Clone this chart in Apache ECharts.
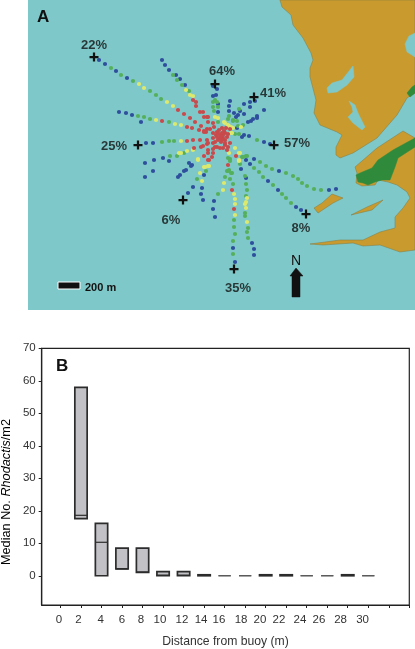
<!DOCTYPE html>
<html><head><meta charset="utf-8">
<style>html,body{margin:0;padding:0;background:#fff}#c{width:415px;height:649px}</style>
<script src="https://cdn.jsdelivr.net/npm/echarts@6/dist/echarts.min.js"></script>
</head><body><div id="c"></div>
<script>
// ---- Panel B data
const distances = [2,4,6,8,10,12,14,16,18,20,22,24,26,28,30];
const lowValues = [17.6,0,2.1,1,0,0,0,0,0,0,0,0,0,0,0];
const medianValues = [18.6,10.3,2.1,1.2,0.2,0.2,0.1,0,0,0.1,0.1,0,0,0.1,0];
const highValues = [58,16.1,8.5,8.5,1.3,1.3,0.3,0,0,0.3,0.3,0,0,0.3,0];
const yTicks = [0,10,20,30,40,50,60,70];
const xTicks = [0,2,4,6,8,10,12,14,16,18,20,22,24,26,28,30,32,34];
const xLabels = ['0','2','4','6','8','10','12','14','16','18','20','22','24','26','28','30'];
const xLabelAt = [-0.15,1.75,3.92,6,7.85,9.7,11.84,13.7,15.45,17.6,19.44,21.3,23.34,25.2,27.3,29.45];

// ---- Panel A data (map coordinates)
const blueDots = [[99,60],[105,64],[116,71],[127,78],[119,112],[126,113],[132,115],[141,122],[146,143],[153,143],[162,60],[165,65],[169,70],[176,75],[180,79],[185,85],[145,163],[154,160],[163,158],[169,161],[145,177],[153,171],[178,177],[180,175],[184,171],[186,170],[189,163],[192,165],[191,166],[188,193],[193,187],[202,188],[201,194],[203,200],[204,175],[213,86],[217,89],[216,95],[213,96],[218,104],[218,112],[255,101],[250,102],[244,104],[250,107],[264,110],[240,111],[230,101],[229,106],[229,111],[234,113],[244,114],[238,115],[236,117],[257,116],[257,118],[253,119],[251,121],[248,122],[237,128],[270,144],[264,142],[249,136],[244,135],[242,137],[254,159],[301,210],[296,207],[278,190],[268,181],[250,164],[246,160],[241,169],[336,189],[329,190],[279,171],[235,262],[233,248],[215,217],[213,209],[214,201],[254,255],[254,249],[252,243],[246,178]];
const greenDots = [[111,68],[121,75],[133,81],[150,91],[156,95],[161,99],[138,116],[144,117],[150,119],[169,122],[162,142],[169,141],[174,141],[173,75],[177,80],[182,85],[189,91],[170,156],[177,156],[184,153],[197,179],[206,171],[215,100],[213,102],[213,107],[218,107],[214,111],[239,109],[229,116],[228,119],[233,120],[237,121],[243,125],[233,121],[238,126],[218,122],[217,102],[257,140],[239,134],[235,134],[242,157],[246,156],[228,158],[230,161],[229,170],[227,171],[232,173],[247,156],[291,203],[286,198],[282,194],[273,185],[263,177],[259,172],[254,168],[243,157],[321,190],[314,189],[307,186],[302,183],[298,179],[293,176],[286,173],[272,169],[266,166],[260,162],[233,254],[233,241],[235,234],[234,227],[234,220],[233,184],[230,179],[231,173],[228,171],[230,159],[218,194],[225,177],[248,238],[247,232],[248,228],[245,216],[245,213],[246,196],[247,190],[246,184],[245,176],[240,164]];
const yellowDots = [[139,84],[144,88],[167,102],[173,106],[156,120],[175,124],[181,125],[181,141],[186,90],[190,95],[193,96],[179,153],[187,151],[193,150],[198,159],[200,173],[202,181],[204,167],[198,160],[215,117],[218,118],[224,122],[225,123],[229,126],[233,128],[232,133],[231,127],[228,125],[241,127],[231,133],[235,148],[229,153],[239,153],[240,153],[239,161],[181,153],[205,167],[208,166],[235,215],[235,204],[235,199],[234,194],[223,190],[224,183],[247,222],[246,208],[245,204],[246,202],[247,198],[239,160],[209,166]];
const redDots = [[178,110],[184,114],[190,118],[195,122],[201,126],[204,131],[162,121],[187,127],[192,128],[199,130],[207,129],[187,141],[193,140],[200,140],[207,140],[193,100],[196,106],[200,112],[204,117],[208,122],[196,102],[203,112],[207,117],[194,148],[201,147],[203,146],[207,144],[204,156],[206,132],[208,117],[213,123],[214,127],[217,132],[210,129],[204,132],[213,138],[213,143],[213,133],[208,143],[208,150],[213,149],[217,147],[208,153],[213,153],[220,148],[223,148],[225,145],[228,147],[230,143],[227,150],[212,157],[208,160],[228,165],[215,142],[218,133],[220,135],[222,137],[223,138],[225,140],[225,133],[223,135],[220,138],[218,140],[222,133],[222,140],[217,137],[227,137],[222,128],[226,128],[230,129],[219,130],[216,135],[224,131],[228,134],[221,142],[225,143],[215,147],[234,209],[232,190],[236,156],[209,160]];

const crossMarks = [[94,57],[215,84],[254,97],[274,145],[306,214],[234,269],[183,200],[138,145]];
const crossLabels = ['22%','64%','41%','57%','8%','35%','6%','25%'];
const crossLabelAt = [[94,45],[222,71],[273,93],[297,143],[301,228],[238,288],[171,220],[114,146]];

const northLand = [[280,0],[282,7],[291,15],[293,25],[303,38],[311,53],[313,60],[310,68],[310,77],[316,100],[314,113],[320,125],[337,132],[342,135],[336,147],[336,155],[340,158],[353,153],[377,138],[397,115],[407,98],[415,93],[415,0]];
const southLand = [[355,167],[377,148],[403,131],[415,138],[415,250],[400,252],[380,245],[363,246],[353,243],[323,245],[310,244],[340,240],[363,240],[380,232],[395,228],[395,217],[403,208],[410,198],[407,192],[397,185],[388,182],[378,180],[375,185],[362,186],[356,183],[357,173]];
const smallIsland = [[314,208],[322,203],[332,194],[343,198],[333,203],[318,213]];
const sliverIsland = [[351,215],[367,207],[383,200],[372,210]];
const inletOne = [[327,88],[332,83],[342,80],[353,66],[354,77],[347,85],[337,92],[328,93]];
const inletTwo = [[349,101],[355,105],[358,113],[365,127],[362,130],[353,123],[348,117],[353,112],[352,107]];
const bayRight = [[415,33],[409,36],[405,44],[407,52],[415,57]];
const greenStrip = [[356,175],[360,173],[372,168],[378,160],[393,150],[415,138],[415,147],[398,158],[395,167],[390,180],[382,180],[375,182],[368,185],[363,183],[358,182]];
const greenBlob = [[407,93],[412,87],[415,85],[415,93],[410,97]];
const northArrow = [[296,268],[303,276],[300,276],[300,297],[292,297],[292,276],[290,276]];
const scaleBar = [[58,282],[80,282],[80,289],[58,289]];

const LAND='#c99a2e', WATER='#7fc8c9', MARSH='#2f8a3c';
const shapes = [
  [northLand,LAND],[southLand,LAND],[smallIsland,LAND],[sliverIsland,LAND],
  [inletOne,WATER],[inletTwo,WATER],[bayRight,WATER],
  [greenStrip,MARSH],[greenBlob,MARSH],[northArrow,'#111']
];
const TXT='#333', FONT='"Liberation Sans",Arial,sans-serif';

const dotSeries = (data,color)=>({type:'scatter',xAxisIndex:0,yAxisIndex:0,data,symbolSize:4.2,silent:true,z:4,
  itemStyle:{color,opacity:1}});

const chart = echarts.init(document.getElementById('c'),null,{renderer:'canvas'});
chart.setOption({
  animation:false,
  backgroundColor:'#fff',
  grid:[
    {left:28,top:0,width:387,height:310,show:true,backgroundColor:WATER,borderWidth:0},
    {left:41.7,top:348.3,width:367.6,height:257,show:true,backgroundColor:'#fff',borderColor:'#222',borderWidth:1.2}
  ],
  xAxis:[
    {gridIndex:0,type:'value',min:28,max:415,show:false},
    {gridIndex:1,type:'value',min:-1.83,max:34,
     name:'Distance from buoy (m)',nameLocation:'middle',nameGap:31,
     nameTextStyle:{color:TXT,fontFamily:FONT,fontSize:12.2},
     splitLine:{show:false},
     axisLine:{onZero:false,lineStyle:{color:'#222',width:1.2}},
     axisTick:{length:3,lineStyle:{color:'#222',width:1},customValues:xTicks},
     axisLabel:{color:TXT,fontFamily:FONT,fontSize:11.5,margin:9,customValues:xLabelAt,
       hideOverlap:false,formatter:v=>xLabels[xLabelAt.indexOf(v)]}}
  ],
  yAxis:[
    {gridIndex:0,type:'value',min:0,max:310,inverse:true,show:false},
    {gridIndex:1,type:'value',min:-9,max:70,
     splitLine:{show:false},
     axisLine:{onZero:false,lineStyle:{color:'#222',width:1.2}},
     axisTick:{length:3,lineStyle:{color:'#222',width:1},customValues:yTicks},
     axisLabel:{color:TXT,fontFamily:FONT,fontSize:11.5,margin:6,customValues:yTicks,hideOverlap:false}}
  ],
  graphic:[
    {type:'text',x:37,y:9,z:20,style:{text:'A',font:'bold 17px '+FONT,fill:'#111'}},
    {type:'text',x:56,y:358,z:20,style:{text:'B',font:'bold 17px '+FONT,fill:'#111'}},
    {type:'text',x:85,y:282,z:20,style:{text:'200 m',font:'bold 11px '+FONT,fill:'#111'}},
    {type:'text',x:291,y:254,z:20,style:{text:'N',font:'14px '+FONT,fill:'#111'}},
    {type:'text',x:0,y:565,rotation:Math.PI/2,z:20,style:{
      text:'{a|Median No. }{b|Rhodactis}{a|/m2}',
      rich:{a:{fontFamily:FONT,fontSize:12.7,color:TXT},
            b:{fontStyle:'italic',fontFamily:FONT,fontSize:12.7,color:TXT}}}}
  ],
  series:[
    {type:'custom',xAxisIndex:0,yAxisIndex:0,silent:true,z:2,clip:true,
     data:shapes.map((s,i)=>[i]),encode:{x:[],y:[]},
     renderItem:(p,api)=>{const s=shapes[api.value(0)];
       return {type:'polygon',shape:{points:s[0].map(q=>api.coord(q))},style:{fill:s[1],stroke:s[1]===LAND?'#7f7a45':s[1],lineWidth:0.5}};}},
    dotSeries(blueDots,'#2d4f9c'),
    dotSeries(greenDots,'#55b05c'),
    dotSeries(yellowDots,'#dde96c'),
    dotSeries(redDots,'#c94a4c'),
    {type:'scatter',xAxisIndex:0,yAxisIndex:0,data:crossMarks,silent:true,z:5,symbolSize:9,
     symbol:'path://M3,0H5V3H8V5H5V8H3V5H0V3H3Z',itemStyle:{color:'#111',opacity:1}},
    {type:'scatter',xAxisIndex:0,yAxisIndex:0,silent:true,z:6,symbolSize:0,
     data:crossLabelAt.map((q,i)=>({value:q,label:{show:true,formatter:crossLabels[i]}})),
     label:{position:'inside',color:'#111',textBorderWidth:0,fontFamily:FONT,fontWeight:'bold',fontSize:13}},
    {type:'custom',xAxisIndex:0,yAxisIndex:0,silent:true,z:6,data:[[0]],encode:{x:[],y:[]},
     renderItem:(p,api)=>({type:'polygon',shape:{points:scaleBar.map(q=>api.coord(q))},
       style:{fill:'#111',stroke:'#fff',lineWidth:1}})},
    {type:'custom',xAxisIndex:1,yAxisIndex:1,silent:true,z:4,
     data:distances.map((d,i)=>[d,lowValues[i],medianValues[i],highValues[i]]),
     encode:{x:0,y:[1,2,3]},
     renderItem:(p,api)=>{
       const x=api.value(0),w=api.size([1.2,0])[0];
       const lo=api.coord([x,api.value(1)]),me=api.coord([x,api.value(2)]),hi=api.coord([x,api.value(3)]);
       const flat=api.value(3)<=0;
       const col=api.value(3)>=0.3?'#2c2c2c':'#555';
       return {type:'group',children:[
         {type:'rect',shape:{x:lo[0]-w/2,y:hi[1],width:w,height:lo[1]-hi[1]},
          style:{fill:'#c2c2c6',stroke:col,lineWidth:flat?1.1:1.7}},
         {type:'line',shape:{x1:lo[0]-w/2,y1:me[1],x2:lo[0]+w/2,y2:me[1]},
          style:{stroke:col,lineWidth:1.2}}
       ]};
     }}
  ]
});
</script></body></html>
